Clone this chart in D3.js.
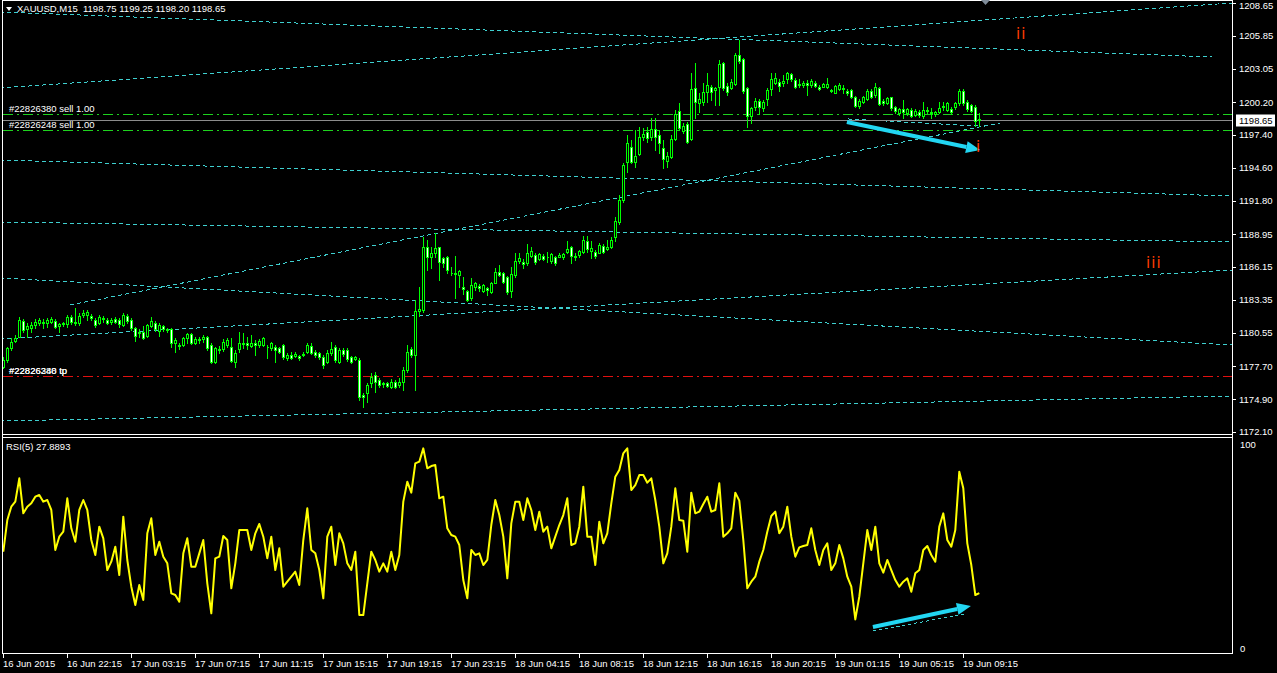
<!DOCTYPE html>
<html><head><meta charset="utf-8">
<script src="https://cdn.jsdelivr.net/npm/d3@7"></script>
<style>
html,body{margin:0;padding:0;background:#000;overflow:hidden}
svg{display:block}
text{font-family:"Liberation Sans",Arial,sans-serif;font-size:9.5px;fill:#fff}
</style></head><body><svg id="c" width="1277" height="673"></svg>
<script>
// ---------- DATA (XAUUSD M15, 245 bars) ----------
const openP=[1177.67,1178.24,1179.23,1179.89,1180.23,1181.59,1180.85,1180.94,1181.22,1181.42,1181.50,1181.42,1181.50,1181.59,1181.14,1181.31,1181.31,1181.93,1181.50,1181.36,1182.07,1182.07,1181.99,1181.65,1181.42,1181.79,1181.65,1181.50,1181.70,1181.65,1181.22,1181.99,1181.65,1180.94,1180.51,1180.65,1180.28,1181.14,1181.42,1180.74,1181.14,1180.85,1180.85,1179.66,1179.52,1179.52,1180.09,1180.45,1179.72,1180.00,1180.00,1180.17,1179.52,1178.10,1179.15,1179.15,1179.52,1179.32,1178.10,1179.15,1179.72,1179.72,1179.43,1179.66,1179.52,1179.52,1179.38,1179.23,1179.38,1179.23,1179.52,1178.38,1178.67,1178.58,1178.58,1178.67,1178.95,1179.43,1178.95,1178.86,1178.52,1178.10,1178.86,1179.38,1178.10,1179.09,1179.09,1178.47,1178.30,1178.24,1175.26,1175.40,1176.25,1176.96,1176.54,1176.25,1176.31,1175.97,1176.39,1176.11,1176.39,1177.39,1179.15,1178.67,1182.44,1182.50,1187.84,1186.99,1187.39,1187.84,1186.90,1186.99,1185.68,1185.63,1185.49,1184.43,1184.12,1183.50,1184.43,1184.55,1184.15,1184.38,1184.07,1184.83,1185.77,1185.63,1185.29,1184.15,1185.49,1186.71,1186.59,1186.54,1187.10,1187.19,1186.88,1187.10,1187.05,1186.65,1187.00,1187.05,1186.99,1187.47,1187.84,1187.10,1187.16,1187.44,1188.35,1187.56,1187.44,1187.39,1187.96,1187.67,1187.90,1188.69,1190.00,1191.87,1195.14,1196.42,1195.14,1195.79,1197.27,1197.69,1197.27,1197.89,1197.41,1196.27,1195.22,1195.51,1197.04,1199.48,1197.78,1198.34,1197.04,1201.38,1200.16,1200.25,1201.10,1201.53,1201.24,1201.47,1203.51,1201.58,1201.38,1201.75,1204.22,1203.85,1201.38,1199.03,1199.77,1200.30,1199.68,1200.45,1201.30,1201.87,1201.95,1201.81,1202.15,1202.60,1202.10,1201.75,1201.70,1201.81,1201.67,1201.87,1201.53,1201.53,1201.53,1201.24,1201.01,1201.36,1201.44,1201.18,1201.24,1200.62,1199.88,1200.25,1200.45,1201.18,1200.82,1201.38,1200.33,1200.16,1200.62,1199.77,1199.31,1199.59,1199.31,1199.54,1199.14,1199.40,1199.03,1199.54,1199.40,1199.20,1199.40,1199.77,1199.54,1199.59,1199.77,1200.11,1201.18,1200.25,1199.96,1199.82,1198.75];
const highP=[1178.52,1179.38,1180.09,1180.37,1181.93,1181.70,1181.36,1181.50,1181.70,1181.79,1181.70,1181.79,1181.87,1181.70,1181.42,1181.50,1182.07,1182.07,1182.64,1182.21,1182.50,1182.50,1182.12,1181.79,1182.07,1181.99,1181.79,1181.79,1181.87,1181.79,1182.21,1182.12,1181.79,1181.08,1180.85,1181.14,1181.31,1181.93,1181.59,1181.36,1181.22,1180.94,1180.94,1180.09,1179.66,1180.23,1180.57,1180.51,1180.17,1180.17,1180.37,1180.28,1179.66,1179.38,1179.43,1180.00,1180.09,1180.09,1179.09,1180.65,1180.51,1180.23,1180.37,1179.94,1180.00,1180.17,1179.52,1179.80,1179.52,1179.38,1179.60,1178.81,1178.95,1178.95,1178.67,1178.95,1179.72,1179.72,1179.09,1178.95,1178.67,1179.09,1179.80,1179.52,1179.23,1179.23,1179.23,1178.58,1178.58,1178.38,1175.40,1176.25,1177.10,1177.25,1176.68,1176.39,1176.39,1176.59,1176.54,1176.68,1177.67,1179.52,1179.38,1183.35,1184.49,1188.75,1188.47,1187.84,1189.03,1187.90,1187.05,1187.10,1186.20,1187.10,1185.91,1185.29,1184.21,1185.20,1184.92,1184.72,1184.75,1184.49,1184.92,1186.05,1186.34,1185.77,1185.40,1186.20,1187.33,1187.33,1186.82,1188.12,1187.84,1187.39,1187.39,1187.27,1187.47,1187.33,1187.10,1187.33,1187.39,1188.41,1187.96,1187.33,1187.62,1188.81,1188.81,1188.41,1187.62,1188.18,1188.12,1188.47,1188.69,1190.40,1192.30,1195.00,1197.41,1196.98,1197.84,1198.06,1197.98,1198.06,1198.83,1198.83,1197.84,1196.98,1195.99,1197.41,1199.54,1200.11,1198.40,1198.50,1202.66,1203.51,1200.96,1201.81,1202.66,1201.67,1201.53,1203.80,1203.65,1201.81,1202.15,1204.36,1205.50,1203.94,1201.53,1199.82,1200.53,1200.45,1200.39,1201.38,1202.66,1202.72,1202.15,1202.52,1202.80,1202.72,1202.24,1202.15,1202.00,1202.10,1202.15,1202.04,1201.67,1201.87,1202.24,1201.30,1201.67,1201.81,1201.67,1201.30,1201.30,1200.73,1200.45,1200.73,1201.30,1201.30,1201.81,1201.47,1200.45,1200.67,1200.67,1199.88,1199.68,1200.39,1199.68,1199.68,1199.59,1199.54,1200.25,1199.82,1199.68,1199.48,1200.25,1200.25,1200.25,1199.82,1200.25,1201.30,1201.30,1200.39,1200.05,1199.96,1199.25];
const lowP=[1177.53,1178.10,1179.09,1179.80,1180.17,1180.65,1180.23,1180.65,1180.94,1181.22,1180.94,1181.08,1181.36,1180.94,1180.65,1181.14,1181.08,1181.31,1181.22,1181.22,1181.93,1181.65,1181.65,1181.08,1181.31,1181.50,1181.31,1181.31,1181.36,1181.08,1181.14,1181.36,1180.79,1179.89,1180.23,1180.00,1180.17,1181.08,1180.74,1180.28,1180.74,1180.65,1179.38,1178.95,1179.15,1179.43,1179.72,1179.60,1179.60,1179.66,1179.80,1179.09,1178.01,1178.01,1178.81,1179.03,1179.38,1178.10,1177.67,1178.95,1179.23,1179.15,1179.38,1178.67,1179.38,1179.43,1178.38,1179.09,1178.10,1178.81,1178.30,1178.24,1178.30,1178.47,1178.24,1178.58,1178.81,1178.75,1178.52,1178.30,1177.53,1177.96,1178.67,1178.10,1178.01,1178.58,1178.18,1177.96,1178.24,1174.83,1174.27,1174.69,1175.97,1175.54,1175.91,1175.97,1175.91,1175.83,1175.83,1175.97,1175.69,1177.25,1178.52,1175.69,1182.00,1182.30,1185.91,1186.05,1187.05,1185.06,1186.20,1185.63,1185.49,1183.50,1184.49,1183.87,1183.30,1183.36,1184.21,1184.15,1184.00,1183.78,1183.93,1184.78,1185.40,1184.78,1183.87,1183.64,1185.34,1186.48,1186.05,1186.34,1186.99,1186.42,1186.76,1186.76,1186.62,1186.48,1186.34,1186.99,1186.82,1187.39,1186.48,1186.76,1187.05,1187.33,1187.47,1186.90,1186.90,1187.33,1187.33,1187.62,1187.76,1188.35,1189.80,1191.70,1194.29,1195.00,1194.71,1195.70,1196.98,1196.84,1196.98,1196.13,1195.85,1194.57,1194.71,1195.42,1196.98,1197.84,1197.55,1196.70,1196.98,1198.83,1199.40,1199.96,1200.25,1200.39,1199.96,1199.96,1201.24,1200.82,1201.30,1201.67,1203.51,1200.96,1198.06,1198.46,1199.54,1199.20,1199.48,1199.96,1200.82,1201.75,1201.18,1201.58,1201.81,1202.04,1201.38,1201.47,1201.53,1200.82,1201.53,1201.47,1201.24,1201.47,1201.38,1201.07,1200.96,1201.24,1200.96,1200.82,1200.53,1199.82,1199.68,1200.11,1200.39,1200.53,1200.67,1199.96,1199.96,1200.05,1199.54,1199.25,1199.11,1198.83,1199.11,1198.91,1199.03,1198.97,1198.83,1199.25,1198.83,1199.03,1199.31,1199.54,1199.48,1199.20,1199.59,1199.96,1199.96,1199.48,1199.40,1198.18,1198.20];
const closeP=[1178.24,1179.23,1179.80,1180.09,1181.65,1180.79,1181.14,1181.22,1181.50,1181.65,1181.36,1181.65,1181.70,1181.08,1181.31,1181.36,1181.87,1181.50,1181.36,1181.99,1182.21,1182.36,1181.79,1181.22,1181.87,1181.70,1181.42,1181.65,1181.50,1181.31,1182.07,1181.59,1180.94,1180.28,1180.65,1180.09,1181.22,1181.59,1180.85,1181.22,1180.85,1180.79,1179.72,1179.94,1179.43,1180.09,1180.45,1179.72,1180.00,1179.94,1180.17,1179.23,1178.10,1179.23,1179.09,1179.80,1179.94,1178.18,1178.86,1179.72,1179.60,1179.52,1179.72,1179.52,1179.89,1180.09,1179.32,1179.66,1179.09,1178.95,1178.47,1178.67,1178.38,1178.75,1178.38,1178.75,1179.52,1178.86,1178.67,1178.52,1177.81,1178.86,1179.15,1178.24,1179.09,1178.75,1178.30,1178.10,1178.47,1175.12,1175.12,1176.11,1176.82,1176.39,1176.11,1176.20,1176.03,1176.39,1175.91,1176.39,1177.39,1178.95,1178.67,1182.44,1182.56,1187.90,1186.99,1187.33,1187.76,1186.62,1186.48,1185.91,1185.63,1185.57,1185.85,1184.32,1183.36,1184.61,1184.78,1184.35,1184.63,1184.21,1184.83,1185.77,1185.49,1184.92,1184.04,1185.57,1186.65,1186.90,1186.39,1187.33,1187.56,1186.62,1187.27,1186.88,1186.99,1187.27,1186.54,1187.22,1187.27,1187.67,1187.10,1186.99,1187.50,1188.47,1187.67,1187.79,1187.10,1188.01,1187.44,1187.84,1188.47,1190.10,1191.87,1194.85,1196.70,1195.14,1195.62,1197.21,1197.47,1197.13,1197.89,1197.21,1196.76,1195.34,1195.62,1197.04,1199.20,1197.98,1198.18,1196.84,1201.30,1200.25,1200.45,1201.10,1201.67,1201.10,1201.38,1203.46,1201.38,1201.10,1201.95,1204.22,1203.74,1201.18,1199.03,1199.68,1200.30,1199.77,1200.25,1201.24,1202.15,1202.24,1201.58,1202.04,1202.66,1202.15,1201.47,1201.67,1201.81,1201.70,1201.98,1201.58,1201.36,1201.75,1201.75,1201.13,1201.58,1201.64,1201.30,1200.96,1200.67,1199.88,1200.33,1200.62,1201.18,1200.62,1201.53,1200.05,1200.11,1200.53,1199.68,1199.48,1199.59,1199.40,1199.59,1199.03,1199.48,1199.11,1199.54,1199.42,1199.31,1199.40,1199.68,1199.88,1200.16,1199.40,1200.16,1201.18,1200.16,1199.59,1199.48,1198.63,1198.65];
const rsiValues=[48.20,63.72,70.26,72.71,84.15,66.99,70.26,71.89,75.16,75.98,72.71,73.53,68.63,49.02,55.55,58.00,74.34,59.64,53.10,68.63,73.53,68.63,53.92,46.57,60.46,54.74,39.21,43.30,50.65,36.76,65.36,44.12,31.04,22.06,31.86,24.51,57.19,64.54,46.57,53.10,45.75,42.48,27.78,26.96,23.69,47.38,54.74,40.85,40.85,47.38,53.92,32.68,17.97,44.93,45.75,55.88,53.92,30.22,42.48,58.82,58.82,58.82,49.02,57.19,61.76,55.55,44.93,55.55,39.21,49.83,31.04,33.49,35.94,38.40,31.86,53.92,69.44,49.02,47.38,39.21,25.32,55.55,60.46,41.66,57.19,52.28,42.48,39.21,48.20,17.15,17.15,32.68,48.20,44.12,38.40,42.48,38.40,48.20,39.21,46.57,72.71,82.51,77.12,91.50,92.32,98.85,89.05,90.19,90.68,74.34,75.16,59.64,56.37,55.55,51.47,34.31,25.32,49.02,46.57,47.38,41.66,44.12,61.27,73.53,66.17,55.55,35.13,62.09,72.71,72.71,63.72,74.34,68.63,58.82,67.81,58.00,60.46,49.83,55.55,61.27,66.17,74.34,51.47,52.28,60.46,80.06,55.55,55.55,41.66,62.91,52.28,57.19,71.89,84.96,88.23,96.40,98.85,78.43,80.88,85.78,85.78,82.02,84.15,73.53,60.46,42.48,47.38,60.46,79.24,63.72,63.40,48.20,77.12,66.99,67.81,71.57,75.16,67.81,68.63,81.70,55.55,57.19,59.64,77.12,73.20,53.92,30.22,33.49,35.94,43.30,49.02,58.00,65.68,67.81,57.19,60.46,70.26,55.55,45.75,50.32,50.98,51.47,59.64,49.02,41.66,49.02,52.28,39.21,42.48,51.47,44.93,35.94,31.04,15.00,26.14,42.48,58.82,49.02,60.46,42.48,37.91,44.12,39.21,34.31,31.04,33.49,35.13,28.59,37.58,39.21,49.02,50.98,46.57,43.30,60.46,66.99,53.92,50.65,58.82,87.41,79.24,52.28,41.66,26.96,27.89];
const timeLabels=["16 Jun 2015","16 Jun 22:15","17 Jun 03:15","17 Jun 07:15","17 Jun 11:15","17 Jun 15:15","17 Jun 19:15","17 Jun 23:15","18 Jun 04:15","18 Jun 08:15","18 Jun 12:15","18 Jun 16:15","18 Jun 20:15","19 Jun 01:15","19 Jun 05:15","19 Jun 09:15"];
const timeLabelBars=[0,16,32,48,64,80,96,112,128,144,160,176,192,208,224,240];
const priceTicks=[1208.65,1205.85,1203.05,1200.20,1197.40,1194.60,1191.80,1188.95,1186.15,1183.35,1180.55,1177.70,1174.90,1172.10];
const rsiTicks=[100,0];
const lastPrice=1198.65;
const headerText="XAUUSD,M15  1198.75 1199.25 1198.20 1198.65";
const rsiText="RSI(5) 27.8893";
// trend lines: [bar1, price1, bar2, price2]
const trendLines=[[-0.8,1207.88,302.2,1204.05],[-0.8,1201.41,307.2,1208.65],[-0.8,1195.27,307.2,1192.21],[-0.8,1189.99,307.2,1188.29],[-0.8,1180.02,307.2,1185.90],[-0.8,1185.22,307.2,1179.51],[16.7,1182.92,249.2,1198.43],[-0.8,1173.04,307.2,1175.17],[211.2,1198.77,243.7,1198.17]];
// order lines
const orderLines=[{p:1199.19,col:"#1ed21e",labels:["#22826380 sell 1.00"]},{p:1197.83,col:"#1ed21e",labels:["#22826248 sell 1.00"]},{p:1176.91,col:"#e01010",labels:["#22826380 tp","#22826248 tp"]}];
const priceArrow=[210.9,1198.51,244.2,1196.13];
const rsiArrow=[217.4,11.27,241.9,21.57];
const rsiDotLine=[217.4,9.31,240.4,17.65];
const waveLabels=[{t:"ii",b:253.2,p:1205.58},{t:"iii",b:285.7,p:1186.07},{t:"i",b:243.2,p:1195.96}];

// ---------- LAYOUT ----------
const svg=d3.select("#c");
const L=2.5,R=1232.5,mainTop=0.5,mainBot=434.5,rsiTop=437.5,rsiBot=653.5;
const x=d3.scaleLinear().domain([0,307]).range([3.3,1231.3]);
const y=d3.scaleLinear().domain([1172.10,1208.65]).range([432,3]);
const r=d3.scaleLinear().domain([0,100]).range([650,446]);

svg.append("rect").attr("width",1277).attr("height",673).attr("fill","#000");
const defs=svg.append("defs");
defs.append("clipPath").attr("id","cm").append("rect").attr("x",3).attr("y",1).attr("width",R-3).attr("height",mainBot-1);
defs.append("clipPath").attr("id","cr").append("rect").attr("x",3).attr("y",rsiTop+0.5).attr("width",R-3).attr("height",rsiBot-rsiTop-1);

const gm=svg.append("g").attr("clip-path","url(#cm)");
const gr=svg.append("g").attr("clip-path","url(#cr)");

// trend lines
gm.selectAll("line.tl").data(trendLines).join("line")
 .attr("x1",d=>x(d[0])).attr("y1",d=>y(d[1])).attr("x2",d=>x(d[2])).attr("y2",d=>y(d[3]))
 .attr("stroke","#3ecfcf").attr("stroke-width",1).attr("stroke-dasharray","4,3").attr("shape-rendering","crispEdges");

// order lines
orderLines.forEach(o=>{
  const yy=Math.round(y(o.p))+0.5;
  gm.append("line").attr("x1",3).attr("x2",R).attr("y1",yy).attr("y2",yy)
   .attr("stroke",o.col).attr("stroke-dasharray","10,4,2,4").attr("shape-rendering","crispEdges");
});
// bid line
const by=Math.round(y(lastPrice))+0.5;
gm.append("line").attr("x1",3).attr("x2",R).attr("y1",by).attr("y2",by).attr("stroke","#8c8c8c").attr("shape-rendering","crispEdges");

// candles
const bars=d3.range(openP.length).map(i=>({i,o:openP[i],h:highP[i],l:lowP[i],c:closeP[i]}));
const cx=d=>Math.round(x(d.i));
gm.selectAll("line.wick").data(bars).join("line")
 .attr("x1",d=>cx(d)+0.5).attr("x2",d=>cx(d)+0.5)
 .attr("y1",d=>Math.round(y(d.h))).attr("y2",d=>Math.round(y(d.l))+1)
 .attr("stroke","#00ff00").attr("shape-rendering","crispEdges");
gm.selectAll("path.body").data(bars).join("path")
 .attr("d",d=>{const t=Math.round(y(Math.max(d.o,d.c))),b=Math.round(y(Math.min(d.o,d.c)));return `M${cx(d)-0.5},${t+0.5}h2v${b-t}h-2z`;})
 .attr("fill",d=>d.c>=d.o?"#000":"#fff").attr("stroke","#00ff00").attr("shape-rendering","crispEdges");

// arrows
function arrow(g,x1,y1,x2,y2,col){
  const a=Math.atan2(y2-y1,x2-x1),hl=14,hw=6;
  const bx=x2-hl*Math.cos(a),byy=y2-hl*Math.sin(a);
  g.append("line").attr("x1",x1).attr("y1",y1).attr("x2",bx).attr("y2",byy).attr("stroke",col).attr("stroke-width",4);
  const px=-Math.sin(a)*hw,py=Math.cos(a)*hw;
  g.append("path").attr("d",`M${x2},${y2}L${bx+px},${byy+py}L${bx-px},${byy-py}Z`).attr("fill",col);
}
arrow(gm,x(priceArrow[0]),y(priceArrow[1]),x(priceArrow[2]),y(priceArrow[3]),"#22d6f2");

// wave labels
gm.selectAll("text.wave").data(waveLabels).join("text")
 .attr("x",d=>x(d.b)).attr("y",d=>y(d.p)).text(d=>d.t)
 .style("font-family","'DejaVu Sans',sans-serif").style("font-size","15px").style("letter-spacing","1px").style("fill","#ff3d00");

// order labels
orderLines.forEach(o=>{
  const yy=Math.round(y(o.p));
  o.labels.forEach(t=>gm.append("text").attr("x",9).attr("y",yy-2).text(t));
});

// RSI
gr.append("line").attr("x1",x(rsiDotLine[0])).attr("y1",r(rsiDotLine[1])).attr("x2",x(rsiDotLine[2])).attr("y2",r(rsiDotLine[3]))
 .attr("stroke","#3ecfcf").attr("stroke-dasharray","3,3").attr("shape-rendering","crispEdges");
gr.append("path").datum(rsiValues)
 .attr("d",d3.line().x((v,i)=>x(i)).y(v=>r(v)))
 .attr("fill","none").attr("stroke","#ffff00").attr("stroke-width",2).attr("stroke-linejoin","round");
arrow(gr,x(rsiArrow[0]),r(rsiArrow[1]),x(rsiArrow[2]),r(rsiArrow[3]),"#22d6f2");

// frames
const fr=svg.append("g").attr("stroke","#fff").attr("shape-rendering","crispEdges").attr("fill","none");
fr.append("line").attr("x1",L).attr("x2",R).attr("y1",mainTop).attr("y2",mainTop);
fr.append("line").attr("x1",L).attr("x2",R).attr("y1",mainBot).attr("y2",mainBot);
fr.append("line").attr("x1",L).attr("x2",R).attr("y1",rsiTop).attr("y2",rsiTop);
fr.append("line").attr("x1",L).attr("x2",R).attr("y1",rsiBot).attr("y2",rsiBot);
fr.append("line").attr("x1",L).attr("x2",L).attr("y1",0).attr("y2",rsiBot);
fr.append("line").attr("x1",R).attr("x2",R).attr("y1",0).attr("y2",rsiBot);

// price axis
const pa=svg.append("g");
pa.selectAll("line").data(priceTicks).join("line")
 .attr("x1",R).attr("x2",1236).attr("y1",d=>Math.round(y(d))+0.5).attr("y2",d=>Math.round(y(d))+0.5)
 .attr("stroke","#fff").attr("shape-rendering","crispEdges");
pa.selectAll("text").data(priceTicks).join("text")
 .attr("x",1239).attr("y",d=>Math.max(y(d)+3.4,8.5)).text(d=>d.toFixed(2));
// last price box
svg.append("rect").attr("x",1236).attr("y",by-6).attr("width",39).attr("height",12).attr("fill","#fff");
svg.append("text").attr("x",1239).attr("y",by+3.4).text(lastPrice.toFixed(2)).style("fill","#000");

// rsi axis
svg.selectAll("text.rt").data(rsiTicks).join("text").attr("x",1240).attr("y",d=>r(d)+1.5).text(d=>d);

// time axis
const ta=svg.append("g");
ta.selectAll("line").data(timeLabelBars).join("line")
 .attr("x1",d=>Math.round(x(d))+0.5).attr("x2",d=>Math.round(x(d))+0.5).attr("y1",rsiBot).attr("y2",657.5)
 .attr("stroke","#fff").attr("shape-rendering","crispEdges");
ta.selectAll("text").data(timeLabelBars).join("text")
 .attr("x",d=>Math.round(x(d))).attr("y",667).text((d,i)=>timeLabels[i]);

// header
svg.append("path").attr("d","M6,7L12,7L9,11Z").attr("fill","#fff");
svg.append("text").attr("x",17).attr("y",11.5).text(headerText).attr("xml:space","preserve").style("white-space","pre");
svg.append("text").attr("x",6).attr("y",450).text(rsiText);
// chart shift marker
svg.append("path").attr("d","M981,0L990,0L985.5,5Z").attr("fill","#7f8c99");
</script></body></html>
